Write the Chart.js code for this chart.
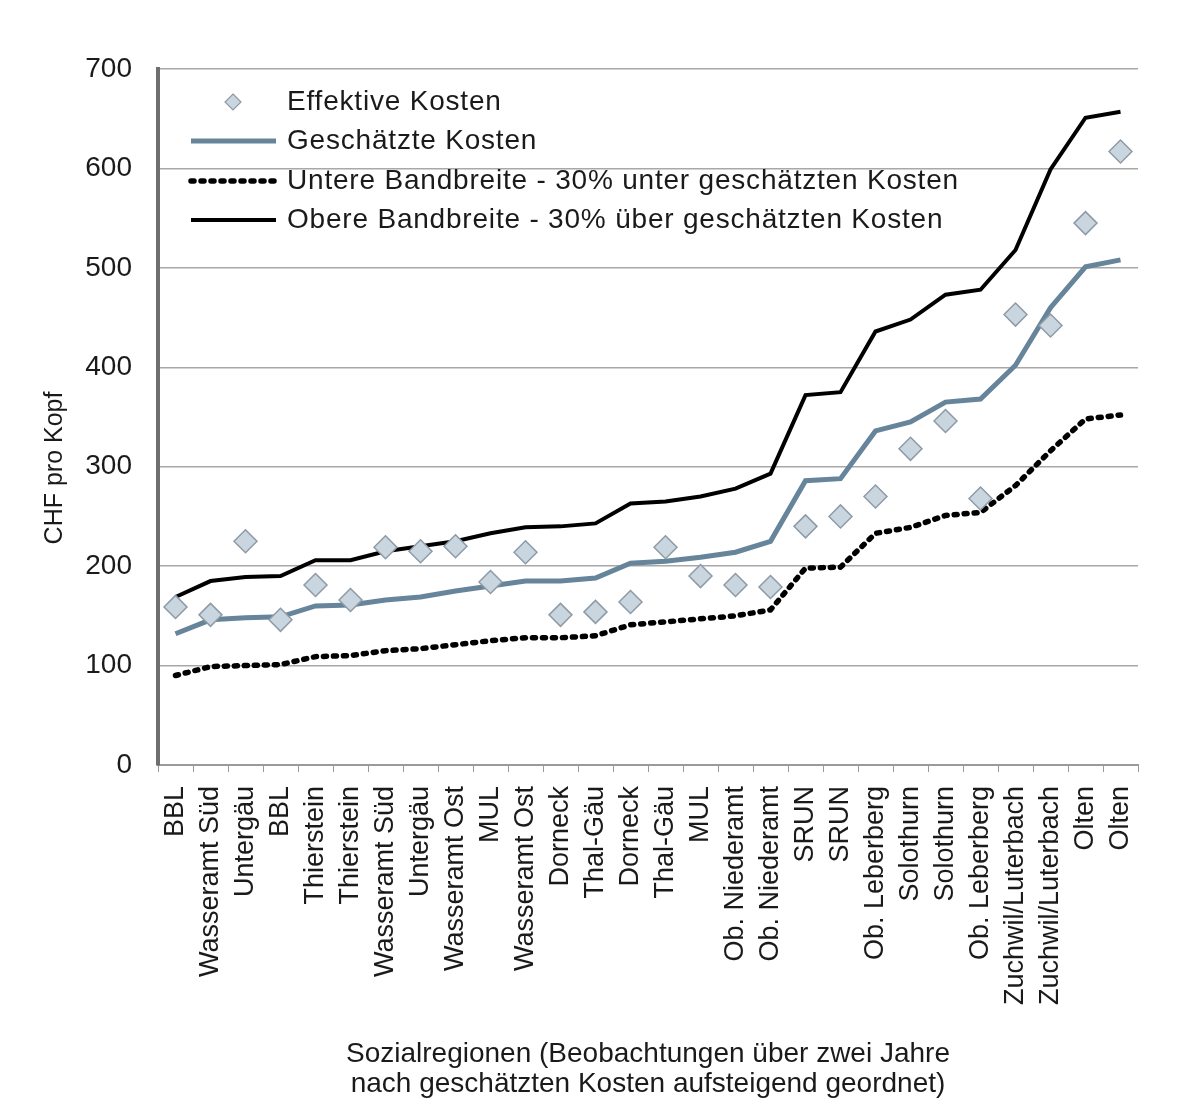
<!DOCTYPE html>
<html>
<head>
<meta charset="utf-8">
<script src="https://cdn.jsdelivr.net/npm/chart.js@4.4.1/dist/chart.umd.min.js"></script>
<style>
  html, body { margin: 0; padding: 0; background: #fff; }
  #wrap { width: 1182px; height: 1115px; }
</style>
</head>
<body>
<div id="wrap"><canvas id="chart"></canvas></div>
<script>
// Sozialregionen, nach geschätzten Kosten aufsteigend geordnet
const regionen = ['BBL', 'Wasseramt Süd', 'Untergäu', 'BBL', 'Thierstein', 'Thierstein',
  'Wasseramt Süd', 'Untergäu', 'Wasseramt Ost', 'MUL', 'Wasseramt Ost', 'Dorneck',
  'Thal-Gäu', 'Dorneck', 'Thal-Gäu', 'MUL', 'Ob. Niederamt', 'Ob. Niederamt', 'SRUN',
  'SRUN', 'Ob. Leberberg', 'Solothurn', 'Solothurn', 'Ob. Leberberg',
  'Zuchwil/Luterbach', 'Zuchwil/Luterbach', 'Olten', 'Olten'];

// CHF pro Kopf
const effektiv   = [159, 151, 225, 146, 181, 166, 219, 215, 220, 184, 214, 151, 154, 164,
                    219, 190, 181, 179, 240, 250, 270, 318, 346, 268, 453, 442, 545, 617];
const geschaetzt = [132, 146, 148, 149, 160, 161, 166, 169, 175, 180, 185, 185, 188, 203,
                    205, 209, 214, 225, 286, 288, 336, 345, 365, 368, 402, 460, 501, 508];
const untere     = [90, 99, 100, 101, 109, 110, 115, 117, 121, 125, 128, 128, 130, 141,
                    144, 147, 150, 156, 198, 199, 233, 239, 251, 254, 281, 316, 348, 352];
const obere      = [169, 185, 189, 190, 206, 206, 215, 220, 225, 233, 239, 240, 243, 263,
                    265, 270, 278, 293, 372, 375, 436, 448, 473, 478, 518, 599, 651, 657];

const yTicks = [0, 100, 200, 300, 400, 500, 600, 700];

const schrift = 'Liberation Sans, Arial, sans-serif';
const textFarbe = '#1a1a1a';

// Legende und y-Achsentitel von Hand zeichnen (wie im Original im Diagramm)
const legendePlugin = {
  id: 'legende',
  afterDraw(chart) {
    const ctx = chart.ctx;
    const ds = chart.data.datasets;
    const zeilen = [102, 141, 181, 220];
    ctx.save();
    ctx.font = '28px ' + schrift;
    ctx.letterSpacing = '0.8px';
    ctx.textBaseline = 'middle';
    ctx.textAlign = 'left';
    ds.forEach((d, i) => {
      const y = zeilen[i];
      if (d.showLine === false) {
        ctx.beginPath();
        ctx.moveTo(233, y - 8);
        ctx.lineTo(241, y);
        ctx.lineTo(233, y + 8);
        ctx.lineTo(225, y);
        ctx.closePath();
        ctx.fillStyle = d.backgroundColor;
        ctx.fill();
        ctx.lineWidth = 1.2;
        ctx.strokeStyle = d.borderColor;
        ctx.stroke();
      } else {
        ctx.beginPath();
        ctx.setLineDash(d.borderDash || []);
        ctx.lineCap = d.borderCapStyle || 'butt';
        ctx.lineWidth = d.borderWidth;
        ctx.strokeStyle = d.borderColor;
        ctx.moveTo(191, y);
        ctx.lineTo(276, y);
        ctx.stroke();
        ctx.setLineDash([]);
      }
      ctx.fillStyle = textFarbe;
      ctx.fillText(d.label, 287, y);
    });
    // y-Achsentitel
    ctx.letterSpacing = '0px';
    ctx.translate(55, 468);
    ctx.rotate(-Math.PI / 2);
    ctx.textAlign = 'center';
    ctx.font = '25px ' + schrift;
    ctx.fillText('CHF pro Kopf', 0, 0);
    ctx.restore();
  }
};

new Chart(document.getElementById('chart'), {
  type: 'line',
  data: {
    labels: regionen,
    datasets: [{
      label: 'Effektive Kosten',
      data: effektiv,
      showLine: false,
      pointStyle: 'rectRot',
      pointRadius: 11.5,
      pointBackgroundColor: '#c9d5df',
      pointBorderColor: '#8e9ba6',
      pointBorderWidth: 1.5,
      backgroundColor: '#c9d5df',
      borderColor: '#8e9ba6'
    }, {
      label: 'Geschätzte Kosten',
      data: geschaetzt,
      borderColor: '#66849a',
      borderWidth: 5,
      pointRadius: 0,
      tension: 0
    }, {
      label: 'Untere Bandbreite - 30% unter geschätzten Kosten',
      data: untere,
      borderColor: '#000',
      borderWidth: 5.5,
      borderDash: [3, 7],
      borderCapStyle: 'round',
      pointRadius: 0,
      tension: 0
    }, {
      label: 'Obere Bandbreite - 30% über geschätzten Kosten',
      data: obere,
      borderColor: '#000',
      borderWidth: 4,
      pointRadius: 0,
      tension: 0
    }]
  },
  options: {
    responsive: true,
    maintainAspectRatio: false,
    animation: false,
    layout: { padding: { top: 69, right: 44, bottom: 10, left: 0 } },
    plugins: {
      legend: { display: false },
      tooltip: { enabled: false }
    },
    scales: {
      x: {
        offset: true,
        grid: { offset: true, drawOnChartArea: false, drawTicks: true, tickLength: 7, color: '#999' },
        border: { color: '#9a9a9a', width: 2 },
        ticks: {
          autoSkip: false, minRotation: 90, maxRotation: 90, padding: 14,
          color: textFarbe, font: { family: schrift, size: 27 }
        },
        title: {
          display: true,
          text: ['Sozialregionen (Beobachtungen über zwei Jahre',
                 'nach geschätzten Kosten aufsteigend geordnet)'],
          color: textFarbe,
          font: { family: schrift, size: 28, lineHeight: 1.1 },
          padding: { top: 0, bottom: 5 }
        },
        afterFit: scale => { scale.height = 340; }
      },
      y: {
        min: 0,
        max: 700,
        afterBuildTicks: scale => { scale.ticks = yTicks.map(v => ({ value: v })); },
        grid: { color: '#a8a8a8', lineWidth: 1.5, drawTicks: false },
        border: { color: '#6f6f6f', width: 4 },
        ticks: { padding: 26, color: textFarbe, font: { family: schrift, size: 28 } },
        afterFit: scale => { scale.width = 158; }
      }
    }
  },
  plugins: [legendePlugin]
});
</script>
</body>
</html>
